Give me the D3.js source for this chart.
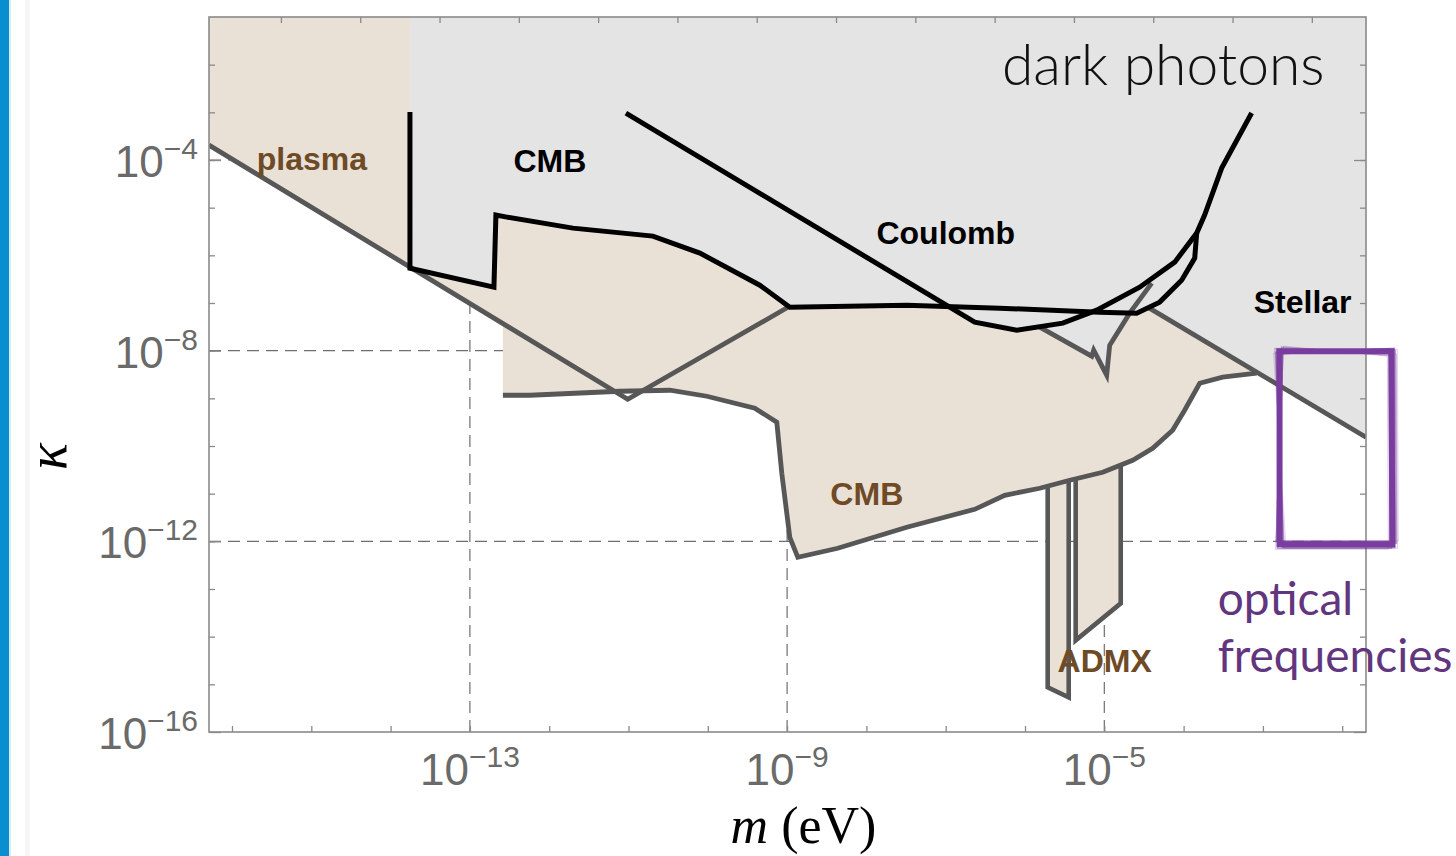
<!DOCTYPE html>
<html><head><meta charset="utf-8">
<script src="https://cdn.jsdelivr.net/npm/d3@7"></script>
<style>body{margin:0;background:#fff;} svg{display:block}</style>
</head><body>
<svg id="c" width="1456" height="856"></svg>
<script>
// ---- data (log10 exponents: m in eV, kappa) ----
const xDomainExp = [-16.29, -1.70];
const yDomainExp = [-16, -1];
const xTickExps = [-16,-15,-14,-13,-12,-11,-10,-9,-8,-7,-6,-5,-4,-3,-2];
const xLabelExps = [-13,-9,-5];
const yTickExps = [-15,-14,-13,-12,-11,-10,-9,-8,-7,-6,-5,-4,-3,-2];
const yLabelExps = [-16,-12,-8,-4];
const xGridExps = [-13,-9,-5];
const yGridExps = [-12,-8,-4];
const topFreqExps = [-1,0,1,2,3,4,5,6,7,8,9,10,11,12]; // log10 Hz
const eVtoHzExp = 14.383;

const plasmaLineM = [-16.29, -11.01, -8.99];
const plasmaLineK = [-3.687, -9.02, -7.09];
const plasmaFillM = [-16.29, -13.756, -13.756, -16.29];
const plasmaFillK = [-1, -1, -6.244, -3.687];

const cmbBlackM = [-13.756, -13.756, -12.697, -12.672, -12.533, -11.701, -10.693, -10.100, -9.344, -8.966, -7.491, -6.319, -5.058, -4.592, -4.302, -4.025, -3.860, -3.835];
const cmbBlackK = [-2.994, -6.269, -6.668, -5.156, -5.198, -5.429, -5.597, -5.954, -6.626, -7.087, -7.045, -7.108, -7.192, -7.213, -6.982, -6.521, -6.059, -5.534];

const coulombM = [-11.033, -6.634, -6.104, -5.524, -5.096, -4.554, -4.112, -3.835, -3.735, -3.520, -3.142];
const coulombK = [-3.015, -7.402, -7.570, -7.423, -7.150, -6.668, -6.143, -5.534, -5.156, -4.170, -3.015];

const stellarM = [-4.453, -1.70];
const stellarK = [-7.087, -9.816];

const vLineM = [-5.814, -5.159, -5.134, -4.970, -4.932, -4.680, -4.402];
const vLineK = [-7.507, -8.116, -7.990, -8.515, -7.885, -7.213, -6.584];

const cmbLowerM = [-12.584, -12.243, -11.109, -10.479, -10.012, -9.407, -9.130, -9.067, -9.004, -8.966, -8.865, -8.361, -7.491, -6.634, -6.256, -5.814, -5.436, -5.020, -4.642, -4.390, -4.138, -3.987, -3.797, -3.508, -3.079];
const cmbLowerK = [-8.935, -8.935, -8.851, -8.830, -8.956, -9.207, -9.501, -10.572, -11.412, -11.915, -12.335, -12.146, -11.705, -11.328, -11.034, -10.887, -10.719, -10.551, -10.299, -10.047, -9.669, -9.250, -8.683, -8.557, -8.473];
const cmbUpperM = [-4.453, -4.592, -5.058, -6.319, -7.491, -8.966, -9.344, -10.100, -10.693, -11.701, -12.533, -12.672, -12.697, -13.756, -12.584];
const cmbUpperK = [-7.087, -7.213, -7.192, -7.108, -7.045, -7.087, -6.626, -5.954, -5.597, -5.429, -5.198, -5.156, -6.668, -6.244, -7.426];

const grayM = [-13.756, -1.70, -1.70, -4.453, -4.642, -4.932, -4.970, -5.134, -5.159, -5.814, -6.104, -6.634, -6.949, -7.491, -8.966, -9.344, -10.100, -10.693, -11.701, -12.533, -12.672, -12.697, -13.756];
const grayK = [-1, -1, -9.816, -7.087, -7.213, -7.885, -8.515, -7.990, -8.116, -7.507, -7.570, -7.402, -7.087, -7.045, -7.087, -6.626, -5.954, -5.597, -5.429, -5.198, -5.156, -6.668, -6.269];

const admx1M = [-5.714, -5.449, -5.449, -5.714];
const admx1K = [-10.75, -10.68, -15.274, -15.064];
const admx2M = [-5.361, -4.793, -4.793, -5.361];
const admx2K = [-10.62, -10.35, -13.301, -14.077];

const opticalM = [-2.79, -1.38];
const opticalK = [-12.06, -8.01];

const regionLabels = [
  {text:"plasma", m:-14.992, k:-4.212, color:"#6e4a26"},
  {text:"CMB", m:-11.991, k:-4.254, color:"#000"},
  {text:"Coulomb", m:-6.999, k:-5.765, color:"#000"},
  {text:"Stellar", m:-2.499, k:-7.213, color:"#000"},
  {text:"CMB", m:-7.995, k:-11.244, color:"#6e4a26"},
  {text:"ADMX", m:-4.995, k:-14.749, color:"#6e4a26"}
];

// ---- layout ----
const L = 209, R = 1366, T = 17, B = 732;
const x = d3.scaleLog().domain(xDomainExp.map(e => 10 ** e)).range([L, R]);
const y = d3.scaleLog().domain(yDomainExp.map(e => 10 ** e)).range([B, T]);
const X = e => x(10 ** e), Y = e => y(10 ** e);
const zip = (ms, ks) => ms.map((m, i) => [m, ks[i]]);
const line = d3.line().x(d => X(d[0])).y(d => Y(d[1]));
const poly = pts => line(pts) + "Z";

const BEIGE = "#e9e0d6", GRAY = "#e4e4e4", LINEG = "#575757";

const svg = d3.select("#c");
svg.append("rect").attr("x",0).attr("y",0).attr("width",9).attr("height",856).attr("fill","#0b8ecf");
svg.append("rect").attr("x",9).attr("y",0).attr("width",2).attr("height",856).attr("fill","#d6ecf7");
svg.append("rect").attr("x",25).attr("y",0).attr("width",5).attr("height",856).attr("fill","#f6f6f6");

svg.append("clipPath").attr("id","plot").append("rect").attr("x",L).attr("y",T).attr("width",R-L).attr("height",B-T);
const P = svg.append("g").attr("clip-path","url(#plot)");

// grid
P.selectAll(".vg").data(xGridExps).join("line").attr("x1",X).attr("x2",X).attr("y1",T).attr("y2",B)
  .attr("stroke","#6e6e6e").attr("stroke-width",1.2).attr("stroke-dasharray","12,7");
P.selectAll(".hg").data(yGridExps).join("line").attr("y1",Y).attr("y2",Y).attr("x1",L).attr("x2",R)
  .attr("stroke","#6e6e6e").attr("stroke-width",1.2).attr("stroke-dasharray","12,7");

// fills
P.append("path").attr("d", poly(zip(plasmaFillM, plasmaFillK))).attr("fill", BEIGE);
[[admx1M, admx1K],[admx2M, admx2K]].forEach(([m,k]) => {
  P.append("path").attr("d", poly(zip(m,k))).attr("fill", BEIGE).attr("stroke", LINEG).attr("stroke-width", 4.6).attr("stroke-linejoin","miter");
});
P.append("path").attr("d", poly(zip(cmbLowerM, cmbLowerK).concat(zip(cmbUpperM, cmbUpperK)))).attr("fill", BEIGE);
P.append("path").attr("d", poly(zip(grayM, grayK))).attr("fill", GRAY);

// gray lines
[[plasmaLineM, plasmaLineK],[cmbLowerM, cmbLowerK],[stellarM, stellarK],[vLineM, vLineK]].forEach(([m,k]) => {
  P.append("path").attr("d", line(zip(m,k))).attr("fill","none").attr("stroke", LINEG).attr("stroke-width", 4.8).attr("stroke-linejoin","miter");
});
// black lines
[[cmbBlackM, cmbBlackK],[coulombM, coulombK]].forEach(([m,k]) => {
  P.append("path").attr("d", line(zip(m,k))).attr("fill","none").attr("stroke","#000").attr("stroke-width", 5).attr("stroke-linejoin","miter");
});

// frame
svg.append("rect").attr("x",L).attr("y",T).attr("width",R-L).attr("height",B-T).attr("fill","none").attr("stroke","#8a8a8a").attr("stroke-width",1.6);

// ticks
const tickStyle = g => { g.select(".domain").remove(); g.selectAll("line").attr("stroke","#8a8a8a").attr("stroke-width",1.3); };
svg.append("g").attr("transform",`translate(0,${B})`).call(d3.axisBottom(x).tickValues(xTickExps.map(e=>10**e)).tickSize(-6).tickFormat("")).call(tickStyle);
svg.append("g").attr("transform",`translate(0,${T})`).call(d3.axisTop(x).tickValues(topFreqExps.map(e=>10**(e-eVtoHzExp))).tickSize(-6).tickFormat("")).call(tickStyle);
svg.append("g").attr("transform",`translate(${L},0)`).call(d3.axisLeft(y).tickValues(yTickExps.map(e=>10**e)).tickSize(-6).tickFormat("")).call(tickStyle);
svg.append("g").attr("transform",`translate(${L},0)`).call(d3.axisLeft(y).tickValues(yLabelExps.map(e=>10**e)).tickSize(-12).tickFormat("")).call(tickStyle);
svg.append("g").attr("transform",`translate(${R},0)`).call(d3.axisRight(y).tickValues(yTickExps.map(e=>10**e)).tickSize(-6).tickFormat("")).call(tickStyle);
svg.append("g").attr("transform",`translate(${R},0)`).call(d3.axisRight(y).tickValues(yLabelExps.map(e=>10**e)).tickSize(-12).tickFormat("")).call(tickStyle);

// tick labels
function expLabel(px, py, exp, anchor) {
  const t = svg.append("text").attr("x",px).attr("y",py).attr("text-anchor",anchor)
    .attr("font-family","'Liberation Sans', Arial, sans-serif").attr("fill","#6a6a6a");
  t.append("tspan").attr("font-size",44).text("10");
  t.append("tspan").attr("font-size",30).attr("dy",-18).text("\u2212" + Math.abs(exp));
}
yLabelExps.forEach(e => expLabel(198, Y(e) + 17, e, "end"));
xLabelExps.forEach(e => expLabel(X(e), B + 53, e, "middle"));

// axis titles
const xt = svg.append("text").attr("x",(L+R)/2 + 16).attr("y",843).attr("text-anchor","middle")
  .attr("font-family","'Liberation Serif', 'Times New Roman', serif").attr("font-size",52).attr("fill","#000");
xt.append("tspan").attr("font-style","italic").text("m");
xt.append("tspan").text(" (eV)");
svg.append("text").attr("transform",`translate(66,${(T+B)/2 + 82}) rotate(-90)`).attr("text-anchor","middle")
  .attr("font-family","'Liberation Serif', 'Times New Roman', serif").attr("font-style","italic").attr("font-size",56).attr("fill","#000").text("\u03ba");

// region labels
svg.selectAll(".rl").data(regionLabels).join("text").attr("x",d=>X(d.m)).attr("y",d=>Y(d.k)).attr("text-anchor","middle")
  .attr("font-family","'Liberation Sans', Arial, sans-serif").attr("font-weight","bold").attr("font-size",32)
  .attr("fill",d=>d.color).text(d=>d.text);

svg.append("text").attr("x",X(-2.222)).attr("y",Y(-2.427)).attr("text-anchor","end")
  .attr("font-family","Lato, sans-serif").attr("font-weight",300).attr("font-size",57).attr("fill","#111").text("dark photons");

const purple = "#7a3e9f";
const ot = svg.append("g").attr("font-family","Lato, sans-serif").attr("font-size",46).attr("fill","#61367f");
ot.append("text").attr("x",X(-3.571)).attr("y",Y(-13.553)).text("optical");
ot.append("text").attr("x",X(-3.571)).attr("y",Y(-14.749)).text("frequencies");

// sketchy optical box (hand-drawn look)
const bx0 = X(opticalM[0]), bx1 = X(opticalM[1]), by0 = Y(opticalK[1]), by1 = Y(opticalK[0]);
const jit = [[0,0,0,0,6,1],[-3,-2,2,3,2,0.6],[3,2,-2,-3,2,0.6],[-4,1,4,-1,1.5,0.5],[2,-4,-1,4,1.5,0.5],[-1,3,3,-2,1.2,0.5],
             [-5,-3,5,4,0.8,0.35],[4,-5,-4,5,0.8,0.35],[-6,2,6,-3,0.7,0.3]];
jit.forEach(([a,b,c,d,w,o]) => {
  svg.append("path").attr("d",`M${bx0+a},${by0+b}L${bx1+c},${by0-b}L${bx1+c+1},${by1+d}L${bx0-a},${by1+d}Z`)
    .attr("fill","none").attr("stroke",purple).attr("stroke-width",w).attr("opacity",o);
});
</script>
</body></html>
